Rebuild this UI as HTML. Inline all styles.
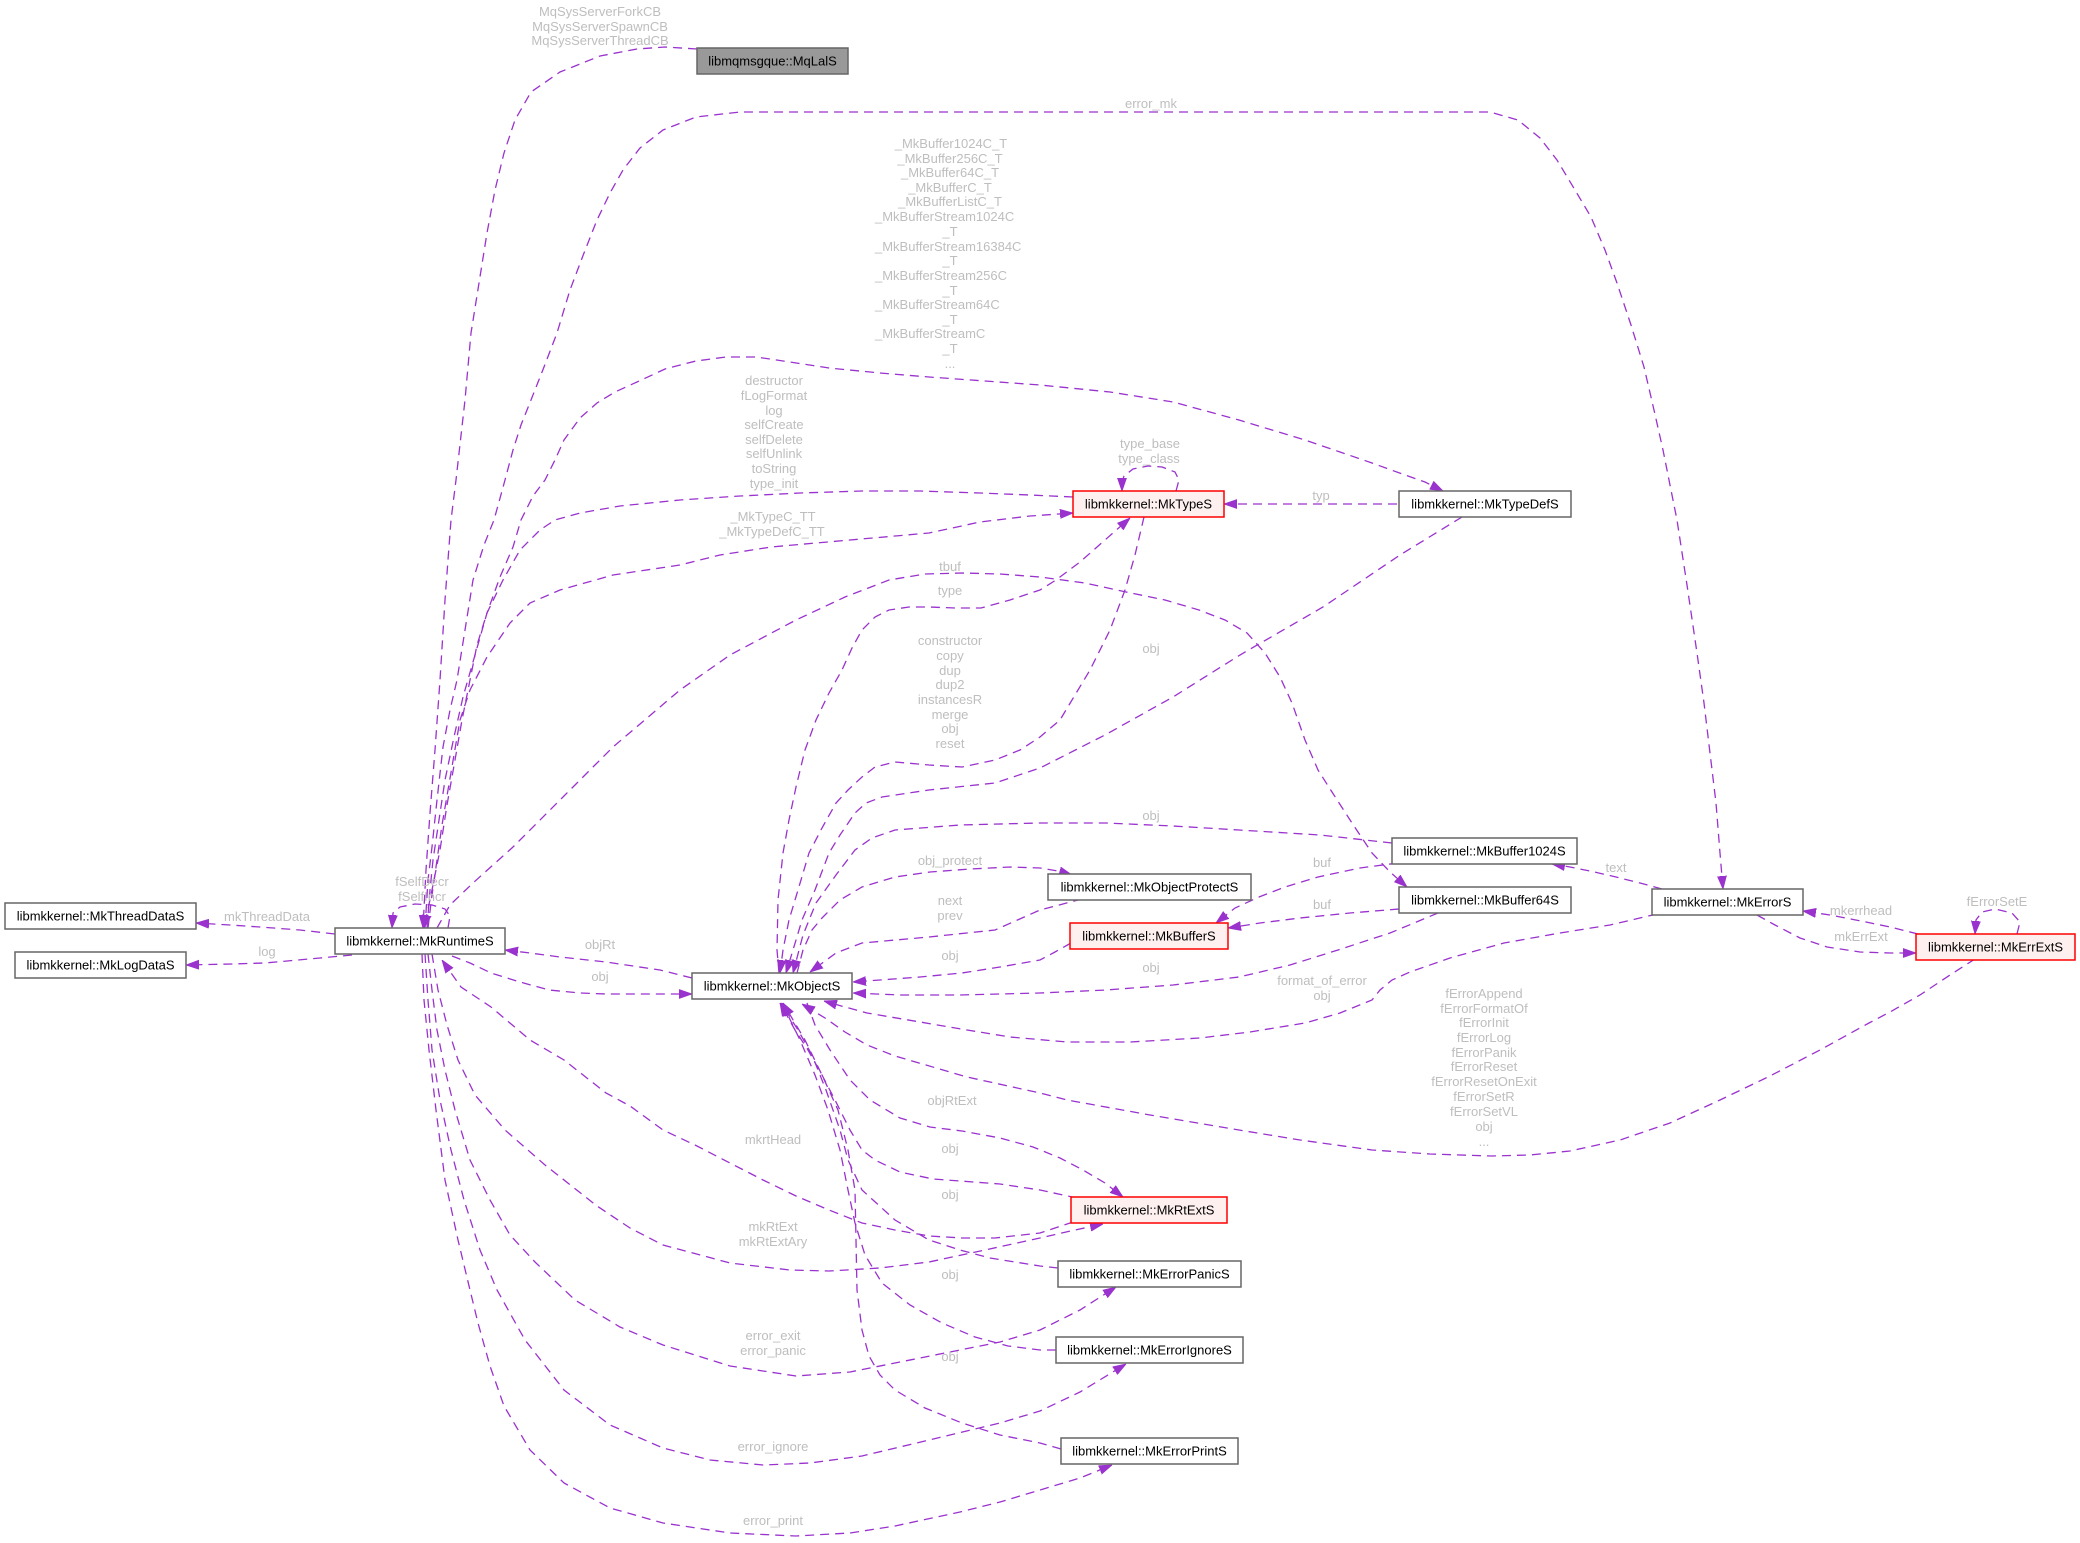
<!DOCTYPE html>
<html>
<head>
<meta charset="utf-8">
<style>
html,body{margin:0;padding:0;background:#ffffff;}
svg{display:block;}
.e{fill:none;stroke:#9a32cd;stroke-width:1.3;stroke-dasharray:9,6;marker-end:url(#ah);}
.l{font-family:"Liberation Sans",Arial,sans-serif;font-size:13px;fill:#bebebe;text-anchor:middle;}
.ls{font-family:"Liberation Sans",Arial,sans-serif;font-size:13px;fill:#bebebe;text-anchor:start;}
.nt{font-family:"Liberation Sans",Arial,sans-serif;font-size:13px;fill:#000000;text-anchor:middle;}
.n{fill:#ffffff;stroke:#666666;stroke-width:1.5;}
.r{fill:#fff0f0;stroke:#ff0000;stroke-width:1.5;}
.g{fill:#999999;stroke:#666666;stroke-width:1.5;}
</style>
</head>
<body>
<svg width="2080" height="1543" viewBox="0 0 2080 1543" xmlns="http://www.w3.org/2000/svg">
<defs>
<marker id="ah" viewBox="0 0 13 10" refX="13" refY="5" markerWidth="13" markerHeight="10" markerUnits="userSpaceOnUse" orient="auto">
<path d="M0,0.5L13,5L0,9.5z" fill="#9a32cd" stroke="#9a32cd" stroke-width="0.8" stroke-dasharray="none"/>
</marker>
</defs>
<rect width="2080" height="1543" fill="#ffffff"/>

<!-- edges -->
<polyline class="e" points="697,49 665,47 637,49 600,56 560,72 531,92 515,120 504,153 495,190 487,233 479,283 471,333 465,400 456,480 451,520 445,600 440,680 435,750 430,813 426,870 423,928"/>
<polyline class="e" points="425,928 428,880 432,847 437,800 443,747 450,710 457,680 465,630 473,580 484,545 494,520 505,480 513,450 521,425 531,400 544,367 557,333 570,290 584,253 597,220 610,193 623,170 640,148 663,130 696,117 740,112 1490,112 1518,120 1540,138 1557,160 1575,190 1591,217 1605,250 1617,283 1631,325 1644,367 1654,410 1663,450 1670,485 1677,520 1687,585 1697,653 1704,703 1710,753 1716,803 1720,853 1723,889"/>
<polyline class="e" points="427,928 430,890 433,860 439,820 445,780 454,737 463,697 475,655 487,613 500,577 513,547 521,520 533,496 545,480 555,460 564,440 580,418 597,403 615,392 637,382 665,369 696,361 726,357 756,357 790,362 829,368 880,373 929,377 985,381 1040,385 1110,392 1173,402 1239,420 1305,440 1340,452 1372,463 1405,475 1425,482 1443,491"/>
<polyline class="e" points="1073,497 1030,495 980,493 920,491 862,491 800,493 740,496 680,500 620,506 580,513 555,520 540,530 520,550 503,580 487,613 477,645 470,680 462,720 455,760 447,805 440,850 432,890 424,928"/>
<polyline class="e" points="428,928 432,895 437,860 442,825 448,790 454,755 460,720 470,690 487,657 510,623 530,603 560,590 613,575 680,565 720,555 771,547 850,540 929,533 980,522 1030,516 1073,513"/>
<polyline class="e" points="437,928 450,905 473,883 513,847 563,797 613,747 680,690 730,655 796,620 845,597 889,580 925,574 962,573 1000,574 1040,577 1085,583 1126,592 1165,600 1199,610 1225,620 1247,633 1265,653 1280,677 1292,703 1305,740 1318,770 1332,792 1352,823 1372,853 1390,872 1407,887"/>
<polyline class="e" points="779,973 777,950 778,900 783,853 789,820 796,787 805,750 816,720 829,693 842,670 852,648 862,630 875,617 889,610 909,607 929,607 955,608 981,608 1010,600 1040,590 1056,580 1080,562 1105,540 1130,518"/>
<polyline class="e" points="1144,517 1135,555 1125,590 1110,630 1090,670 1060,720 1040,737 1020,750 995,760 962,767 929,765 895,762 875,767 862,777 848,790 836,803 822,828 809,853 798,890 789,920 783,950 780,973"/>
<polyline class="e" points="1462,517 1400,555 1323,607 1240,655 1173,697 1105,735 1040,768 995,783 929,790 882,797 866,803 855,813 840,835 829,853 815,890 802,920 793,950 786,973"/>
<polyline class="e" points="1392,843 1320,835 1239,830 1173,826 1106,823 1040,823 960,825 895,830 872,838 855,850 836,875 816,903 803,935 793,973"/>
<polyline class="e" points="797,973 803,950 812,930 822,918 840,900 862,887 895,877 930,872 970,869 1010,867 1040,868 1058,871 1072,875"/>
<polyline class="e" points="1082,899 1040,910 995,930 929,937 862,943 836,953 810,972"/>
<polyline class="e" points="1071,943 1055,952 1040,960 1000,967 962,973 920,977 880,980 853,982"/>
<polyline class="e" points="1438,913 1390,933 1338,950 1290,965 1239,977 1173,985 1106,990 1040,993 960,995 900,995 853,993"/>
<polyline class="e" points="1398,863 1360,868 1318,877 1285,887 1259,897 1235,908 1216,923"/>
<polyline class="e" points="1399,909 1350,913 1300,918 1260,923 1228,928"/>
<polyline class="e" points="1397,504 1224,504"/>
<polyline class="e" points="1176,491 1179,480 1175,472 1162,467 1148,466 1133,469 1124,476 1122,482 1122,491"/>
<polyline class="e" points="448,928 450,916 445,909 432,905 415,904 400,907 393,913 392,928"/>
<polyline class="e" points="692,978 660,970 606,962 560,957 530,953 505,950"/>
<polyline class="e" points="452,956 470,963 491,973 520,982 549,990 580,993 606,994 650,994 692,994"/>
<polyline class="e" points="335,934 300,930 260,927 230,925 196,923"/>
<polyline class="e" points="352,955 320,958 298,960 265,963 232,964 186,965"/>
<polyline class="e" points="1073,1222 1040,1233 995,1238 962,1238 929,1236 895,1230 862,1223 829,1210 796,1196 763,1180 730,1163 697,1146 663,1130 630,1106 606,1093 564,1060 530,1040 491,1007 461,987 442,960"/>
<polyline class="e" points="432,954 438,990 447,1025 458,1060 475,1095 505,1130 545,1165 597,1206 630,1228 663,1245 730,1263 790,1270 829,1271 880,1268 929,1262 985,1250 1040,1238 1075,1230 1103,1224"/>
<polyline class="e" points="428,954 432,990 437,1030 445,1070 455,1110 470,1160 490,1200 510,1235 535,1262 575,1300 620,1327 663,1345 730,1366 796,1376 850,1372 895,1363 960,1350 1000,1342 1040,1330 1080,1310 1116,1287"/>
<polyline class="e" points="425,954 428,1000 432,1050 440,1100 451,1150 464,1200 480,1250 497,1290 525,1340 564,1390 610,1425 663,1448 710,1460 763,1465 810,1463 862,1456 950,1435 1000,1423 1040,1411 1080,1392 1126,1364"/>
<polyline class="e" points="422,954 424,1000 429,1050 436,1110 445,1180 458,1240 470,1290 478,1323 490,1366 504,1406 530,1450 564,1483 610,1508 663,1523 730,1533 796,1536 850,1533 895,1526 960,1512 1000,1502 1040,1490 1080,1478 1112,1465"/>
<polyline class="e" points="807,1003 815,1025 830,1050 850,1080 870,1100 900,1118 930,1127 962,1131 1000,1138 1033,1147 1060,1158 1083,1170 1105,1183 1123,1197"/>
<polyline class="e" points="1077,1198 1040,1190 1000,1184 960,1181 933,1179 900,1172 875,1160 862,1150 850,1130 835,1100 822,1075 808,1050 795,1030 780,1003"/>
<polyline class="e" points="1058,1268 1040,1266 990,1258 960,1250 929,1240 895,1220 862,1190 848,1160 840,1130 826,1090 812,1055 798,1030 781,1003"/>
<polyline class="e" points="1056,1350 1040,1350 1008,1346 975,1337 942,1323 910,1305 882,1283 865,1255 855,1223 848,1190 840,1150 828,1110 815,1075 800,1040 782,1003"/>
<polyline class="e" points="1061,1449 1040,1443 1000,1435 962,1423 925,1408 895,1390 880,1375 869,1356 862,1330 857,1290 856,1240 855,1190 848,1150 838,1110 822,1075 805,1040 783,1003"/>
<polyline class="e" points="1657,914 1610,925 1560,933 1504,943 1450,958 1410,972 1392,980 1380,990 1372,1000 1340,1013 1305,1023 1250,1032 1200,1038 1130,1042 1067,1042 1010,1037 967,1030 920,1022 867,1013 845,1007 824,1001"/>
<polyline class="e" points="1975,959 1950,975 1920,995 1890,1012 1869,1023 1820,1050 1770,1076 1720,1100 1670,1123 1620,1140 1570,1151 1530,1155 1491,1156 1430,1154 1372,1150 1300,1140 1239,1130 1150,1115 1067,1100 1040,1093 967,1077 895,1056 867,1045 845,1032 825,1018 802,1004"/>
<polyline class="e" points="1662,889 1640,883 1616,877 1590,871 1570,867 1552,864"/>
<polyline class="e" points="1918,934 1890,927 1861,921 1830,915 1803,911"/>
<polyline class="e" points="1757,915 1775,925 1800,938 1827,947 1860,952 1890,953 1916,953"/>
<polyline class="e" points="2017,934 2020,922 2012,913 1995,909 1982,912 1976,920 1975,934"/>

<!-- edge labels -->
<text class="l" x="600" y="16">MqSysServerForkCB</text>
<text class="l" x="600" y="31">MqSysServerSpawnCB</text>
<text class="l" x="600" y="45">MqSysServerThreadCB</text>
<text class="l" x="1151" y="108">error_mk</text>

<text class="l" x="951" y="148">_MkBuffer1024C_T</text>
<text class="l" x="950" y="163">_MkBuffer256C_T</text>
<text class="l" x="950" y="177">_MkBuffer64C_T</text>
<text class="l" x="950" y="192">_MkBufferC_T</text>
<text class="l" x="950" y="206">_MkBufferListC_T</text>
<text class="ls" x="875" y="221">_MkBufferStream1024C</text>
<text class="l" x="950" y="236">_T</text>
<text class="ls" x="875" y="251">_MkBufferStream16384C</text>
<text class="l" x="950" y="265">_T</text>
<text class="ls" x="875" y="280">_MkBufferStream256C</text>
<text class="l" x="950" y="295">_T</text>
<text class="ls" x="875" y="309">_MkBufferStream64C</text>
<text class="l" x="950" y="324">_T</text>
<text class="ls" x="875" y="338">_MkBufferStreamC</text>
<text class="l" x="950" y="353">_T</text>
<text class="l" x="950" y="368">...</text>

<text class="l" x="774" y="385">destructor</text>
<text class="l" x="774" y="400">fLogFormat</text>
<text class="l" x="774" y="415">log</text>
<text class="l" x="774" y="429">selfCreate</text>
<text class="l" x="774" y="444">selfDelete</text>
<text class="l" x="774" y="458">selfUnlink</text>
<text class="l" x="774" y="473">toString</text>
<text class="l" x="774" y="488">type_init</text>

<text class="l" x="773" y="521">_MkTypeC_TT</text>
<text class="l" x="772" y="536">_MkTypeDefC_TT</text>

<text class="l" x="1150" y="448">type_base</text>
<text class="l" x="1149" y="463">type_class</text>
<text class="l" x="1321" y="500">typ</text>
<text class="l" x="950" y="571">tbuf</text>
<text class="l" x="950" y="595">type</text>

<text class="l" x="950" y="645">constructor</text>
<text class="l" x="950" y="660">copy</text>
<text class="l" x="950" y="675">dup</text>
<text class="l" x="950" y="689">dup2</text>
<text class="l" x="950" y="704">instancesR</text>
<text class="l" x="950" y="719">merge</text>
<text class="l" x="950" y="733">obj</text>
<text class="l" x="950" y="748">reset</text>

<text class="l" x="1151" y="653">obj</text>
<text class="l" x="1151" y="820">obj</text>
<text class="l" x="950" y="865">obj_protect</text>
<text class="l" x="1322" y="867">buf</text>
<text class="l" x="1322" y="909">buf</text>
<text class="l" x="1616" y="872">text</text>
<text class="l" x="950" y="905">next</text>
<text class="l" x="950" y="920">prev</text>
<text class="l" x="422" y="886">fSelfDecr</text>
<text class="l" x="422" y="901">fSelfIncr</text>
<text class="l" x="267" y="921">mkThreadData</text>
<text class="l" x="267" y="956">log</text>
<text class="l" x="600" y="949">objRt</text>
<text class="l" x="600" y="981">obj</text>
<text class="l" x="950" y="960">obj</text>
<text class="l" x="1997" y="906">fErrorSetE</text>
<text class="l" x="1861" y="915">mkerrhead</text>
<text class="l" x="1861" y="941">mkErrExt</text>
<text class="l" x="1151" y="972">obj</text>
<text class="l" x="1322" y="985">format_of_error</text>
<text class="l" x="1322" y="1000">obj</text>

<text class="l" x="1484" y="998">fErrorAppend</text>
<text class="l" x="1484" y="1013">fErrorFormatOf</text>
<text class="l" x="1484" y="1027">fErrorInit</text>
<text class="l" x="1484" y="1042">fErrorLog</text>
<text class="l" x="1484" y="1057">fErrorPanik</text>
<text class="l" x="1484" y="1071">fErrorReset</text>
<text class="l" x="1484" y="1086">fErrorResetOnExit</text>
<text class="l" x="1484" y="1101">fErrorSetR</text>
<text class="l" x="1484" y="1116">fErrorSetVL</text>
<text class="l" x="1484" y="1131">obj</text>
<text class="l" x="1484" y="1146">...</text>

<text class="l" x="952" y="1105">objRtExt</text>
<text class="l" x="773" y="1144">mkrtHead</text>
<text class="l" x="950" y="1153">obj</text>
<text class="l" x="950" y="1199">obj</text>
<text class="l" x="773" y="1231">mkRtExt</text>
<text class="l" x="773" y="1246">mkRtExtAry</text>
<text class="l" x="950" y="1279">obj</text>
<text class="l" x="773" y="1340">error_exit</text>
<text class="l" x="773" y="1355">error_panic</text>
<text class="l" x="950" y="1361">obj</text>
<text class="l" x="773" y="1451">error_ignore</text>
<text class="l" x="773" y="1525">error_print</text>

<!-- nodes -->
<rect class="g" x="697" y="48" width="151" height="26"/>
<text class="nt" x="772.5" y="65.5">libmqmsgque::MqLalS</text>

<rect class="r" x="1073" y="491" width="151" height="26"/>
<text class="nt" x="1148.5" y="508.5">libmkkernel::MkTypeS</text>

<rect class="n" x="1399" y="491" width="172" height="26"/>
<text class="nt" x="1485" y="508.5">libmkkernel::MkTypeDefS</text>

<rect class="n" x="5" y="903" width="191" height="26"/>
<text class="nt" x="100.5" y="920.5">libmkkernel::MkThreadDataS</text>

<rect class="n" x="15" y="952" width="171" height="26"/>
<text class="nt" x="100.5" y="969.5">libmkkernel::MkLogDataS</text>

<rect class="n" x="335" y="928" width="170" height="26"/>
<text class="nt" x="420" y="945.5">libmkkernel::MkRuntimeS</text>

<rect class="n" x="692" y="973" width="160" height="26"/>
<text class="nt" x="772" y="990.5">libmkkernel::MkObjectS</text>

<rect class="n" x="1392" y="838" width="185" height="26"/>
<text class="nt" x="1484.5" y="855.5">libmkkernel::MkBuffer1024S</text>

<rect class="n" x="1048" y="874" width="203" height="26"/>
<text class="nt" x="1149.5" y="891.5">libmkkernel::MkObjectProtectS</text>

<rect class="n" x="1399" y="887" width="172" height="26"/>
<text class="nt" x="1485" y="904.5">libmkkernel::MkBuffer64S</text>

<rect class="r" x="1070" y="923" width="158" height="26"/>
<text class="nt" x="1149" y="940.5">libmkkernel::MkBufferS</text>

<rect class="n" x="1652" y="889" width="151" height="26"/>
<text class="nt" x="1727.5" y="906.5">libmkkernel::MkErrorS</text>

<rect class="r" x="1916" y="934" width="159" height="26"/>
<text class="nt" x="1995.5" y="951.5">libmkkernel::MkErrExtS</text>

<rect class="r" x="1071" y="1197" width="156" height="26"/>
<text class="nt" x="1149" y="1214.5">libmkkernel::MkRtExtS</text>

<rect class="n" x="1058" y="1261" width="183" height="26"/>
<text class="nt" x="1149.5" y="1278.5">libmkkernel::MkErrorPanicS</text>

<rect class="n" x="1056" y="1337" width="187" height="26"/>
<text class="nt" x="1149.5" y="1354.5">libmkkernel::MkErrorIgnoreS</text>

<rect class="n" x="1061" y="1438" width="177" height="26"/>
<text class="nt" x="1149.5" y="1455.5">libmkkernel::MkErrorPrintS</text>
</svg>
</body>
</html>
